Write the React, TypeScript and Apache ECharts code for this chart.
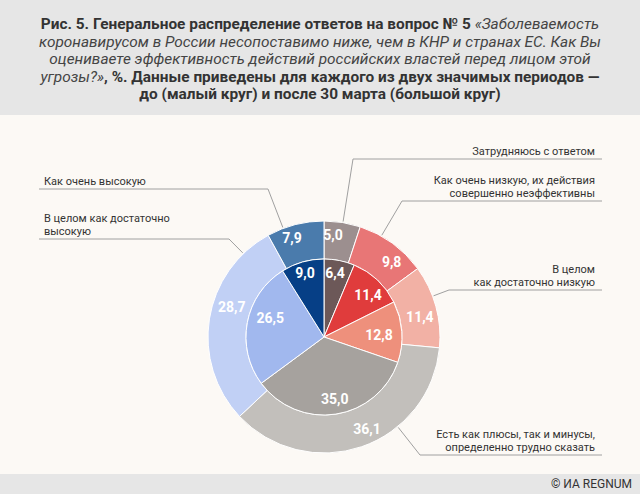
import React, { useEffect, useRef } from 'react';
import * as echarts from 'echarts';

// ---------- data ----------
const CATEGORIES = [
  'Затрудняюсь с ответом',
  'Как очень низкую, их действия совершенно неэффективны',
  'В целом как достаточно низкую',
  'Есть как плюсы, так и минусы, определенно трудно сказать',
  'В целом как достаточно высокую',
  'Как очень высокую',
];
const LABEL_TEXTS = [
  'Затрудняюсь с ответом',
  'Как очень низкую, их действия\nсовершенно неэффективны',
  'В целом\nкак достаточно низкую',
  'Есть как плюсы, так и минусы,\nопределенно трудно сказать',
  'В целом как достаточно\nвысокую',
  'Как очень высокую',
];
// small circle: before 30 March
const BEFORE_30_MARCH = [6.4, 11.4, 12.8, 35.0, 26.5, 9.0];
// big circle: after 30 March
const AFTER_30_MARCH = [5.0, 9.8, 11.4, 36.1, 28.7, 7.9];

const TITLE_LINES: [string, string][][] = [
  [['b', 'Рис. 5. Генеральное распределение ответов на вопрос № 5 '], ['i', '«Заболеваемость']],
  [['i', 'коронавирусом в России несопоставимо ниже, чем в КНР и странах ЕС. Как Вы']],
  [['i', 'оцениваете эффективность действий российских властей перед лицом этой']],
  [['i', 'угрозы?»'], ['b', ', %. Данные приведены для каждого из двух значимых периодов —']],
  [['b', 'до (малый круг) и после 30 марта (большой круг)']],
];
const SOURCE = '© ИА REGNUM';

// ---------- styles / layout ----------
const INNER_COLORS = ['#6c5858', '#e03c3c', '#ee907c', '#a6a29e', '#a1b8ee', '#063f86'];
const OUTER_COLORS = ['#9c8f8f', '#e87676', '#f2b1a5', '#c2bfbb', '#c1d0f5', '#4a7bac'];
const FONT = 'Roboto, "Noto Sans", sans-serif';
const TITLE_SIZE = 15.4;
const CX = 324;
const CY = 337;
const R_IN = 78;
const R_OUT = 116;
// value-label placement tweaks (angle shift in degrees, distance from centre in px)
const INNER_LABEL_SHIFT = [-1.6, 3, 2, -1, 8.6, -0.5];
const INNER_LABEL_DIST = [65, 61, 55, 63, 57, 67];
const OUTER_LABEL_SHIFT = [-4, 6, 3.4, -6, 9, -3.6];
const OUTER_LABEL_DIST = [102, 101, 98, 102, 97, 104];
const NAME_LAYOUT = [
  { side: 'right', lineY: 159, innerX: 353, anchorDeg: 9.4 },
  { side: 'right', lineY: 201, innerX: 402, anchorDeg: 29.6 },
  { side: 'right', lineY: 290, innerX: 449, anchorDeg: 69.4 },
  { side: 'right', lineY: 455, innerX: 420, anchorDeg: 140.6 },
  { side: 'left', lineY: 239, innerX: 229, anchorDeg: 316 },
  { side: 'left', lineY: 189, innerX: 268, anchorDeg: 339.4 },
];

const fmt = (v: number) => v.toFixed(1).replace('.', ',');

function polarLayout(shifts: number[], dists: number[]) {
  return (p: any) => {
    const r = p.labelRect;
    const lx = r.x + r.width / 2;
    const ly = r.y + r.height / 2;
    const ang = Math.atan2(lx - CX, -(ly - CY)) + (shifts[p.dataIndex] * Math.PI) / 180;
    const d = dists[p.dataIndex];
    return {
      x: CX + d * Math.sin(ang),
      y: CY - d * Math.cos(ang),
      align: 'center',
      verticalAlign: 'middle',
    };
  };
}

export default function App() {
  const ref = useRef<HTMLDivElement>(null);
  useEffect(() => {
    document.body.style.margin = '0';
    const chart = echarts.init(ref.current!, null, { renderer: 'svg' });

    const titleGraphics = TITLE_LINES.map((parts, i) => ({
      type: 'text',
      x: 320,
      y: 24 + i * 17.6,
      style: {
        text: parts.map(([s, t]) => `{${s}|${t}}`).join(''),
        align: 'center',
        verticalAlign: 'middle',
        fill: '#333333',
        fontFamily: FONT,
        fontSize: TITLE_SIZE,
        rich: {
          b: { fontWeight: 'bold', fontSize: TITLE_SIZE, fontFamily: FONT, fill: '#333333', color: '#333333' },
          i: { fontStyle: 'italic', fontSize: TITLE_SIZE, fontFamily: FONT, fill: '#444444', color: '#444444' },
        },
      },
    }));

    const valueLabel = {
      show: true,
      position: 'inside',
      color: '#ffffff',
      fontFamily: FONT,
      fontSize: 14,
      fontWeight: 'bold',
      formatter: (p: any) => fmt(p.value),
    };

    chart.setOption({
      animation: false,
      backgroundColor: '#fcf9f5',
      graphic: [
        { type: 'rect', shape: { x: 0, y: 0, width: 640, height: 115 }, style: { fill: '#e6e6e6' } },
        { type: 'rect', shape: { x: 0, y: 474, width: 640, height: 20 }, style: { fill: '#e6e6e6' } },
        ...titleGraphics,
        {
          type: 'text',
          x: 632,
          y: 484,
          style: {
            text: SOURCE,
            align: 'right',
            verticalAlign: 'middle',
            fill: '#333333',
            fontFamily: FONT,
            fontSize: 12,
          },
        },
      ],
      series: [
        {
          type: 'pie',
          center: [CX, CY],
          radius: [0, R_IN],
          startAngle: 90,
          clockwise: true,
          silent: true,
          avoidLabelOverlap: false,
          itemStyle: { borderColor: '#ffffff', borderWidth: 1 },
          label: valueLabel,
          labelLine: { show: false },
          labelLayout: polarLayout(INNER_LABEL_SHIFT, INNER_LABEL_DIST),
          data: BEFORE_30_MARCH.map((v, i) => ({
            name: CATEGORIES[i],
            value: v,
            itemStyle: { color: INNER_COLORS[i] },
          })),
          z: 3,
        },
        {
          type: 'pie',
          center: [CX, CY],
          radius: [R_IN, R_OUT],
          startAngle: 90,
          clockwise: true,
          silent: true,
          avoidLabelOverlap: false,
          itemStyle: { borderColor: '#ffffff', borderWidth: 1 },
          label: valueLabel,
          labelLine: { show: false },
          labelLayout: polarLayout(OUTER_LABEL_SHIFT, OUTER_LABEL_DIST),
          data: AFTER_30_MARCH.map((v, i) => ({
            name: CATEGORIES[i],
            value: v,
            itemStyle: { color: OUTER_COLORS[i] },
          })),
          z: 2,
        },
        {
          type: 'pie',
          center: [CX, CY],
          radius: [R_IN, R_OUT],
          startAngle: 90,
          clockwise: true,
          silent: true,
          avoidLabelOverlap: false,
          itemStyle: { color: 'rgba(0,0,0,0)', borderWidth: 0 },
          label: {
            show: true,
            position: 'outside',
            color: '#333333',
            fontFamily: FONT,
            fontSize: 11,
            lineHeight: 13,
            formatter: (p: any) => LABEL_TEXTS[p.dataIndex],
          },
          labelLine: { show: true, lineStyle: { color: '#a0a0a0', width: 1 } },
          labelLayout: (p: any) => {
            const L = NAME_LAYOUT[p.dataIndex];
            const a = (L.anchorDeg * Math.PI) / 180;
            const ax = CX + (R_OUT + 1) * Math.sin(a);
            const ay = CY - (R_OUT + 1) * Math.cos(a);
            const right = L.side === 'right';
            return {
              x: right ? 595 : 44,
              y: L.lineY - 1,
              align: right ? 'right' : 'left',
              verticalAlign: 'bottom',
              labelLinePoints: [
                [ax, ay],
                [L.innerX, L.lineY],
                [right ? 602 : 39, L.lineY],
              ],
            };
          },
          data: AFTER_30_MARCH.map((v, i) => ({ name: CATEGORIES[i], value: v })),
          z: 1,
        },
      ],
    });
    return () => chart.dispose();
  }, []);
  return <div ref={ref} style={{ position: 'absolute', left: 0, top: 0, width: 640, height: 494 }} />;
}
